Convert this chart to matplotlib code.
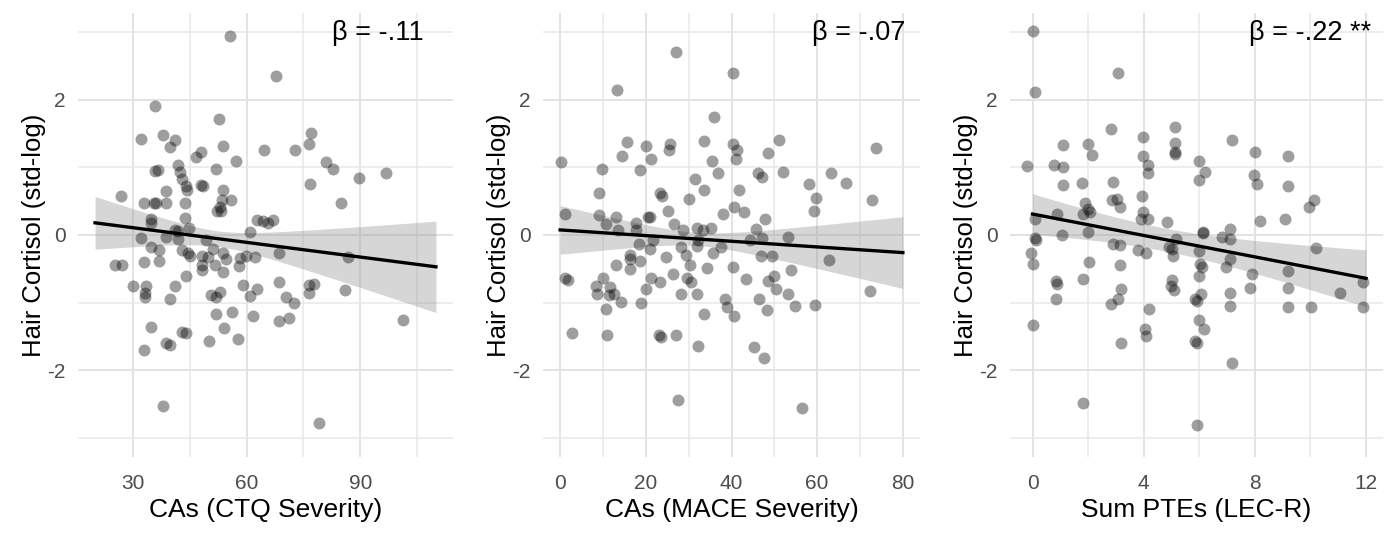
import numpy as np
import matplotlib
matplotlib.use('Agg')
import matplotlib.pyplot as plt

plt.rcParams['font.family'] = ['Liberation Sans', 'DejaVu Sans']
plt.rcParams['axes.unicode_minus'] = False

# hair cortisol vs. CTQ severity
ctq_x = [55.5, 67.8, 35.7, 52.7, 32.2, 37.9, 41.0, 39.9, 53.7, 64.7, 72.7, 77.1, 76.6, 48.0, 46.7,
         57.1, 81.0, 82.8, 89.8, 96.8, 41.9, 42.4, 35.7, 36.6, 52.0, 43.0, 44.1, 44.2, 48.0, 48.5,
         38.8, 53.7, 76.7, 26.9, 32.9, 35.5, 36.2, 38.8, 43.8, 53.6, 55.9, 84.8, 52.9, 52.3, 53.2,
         34.8, 34.8, 43.8, 44.9, 41.0, 42.0, 62.8, 64.3, 65.6, 66.9, 60.8, 32.2, 38.8, 41.8, 49.3,
         34.8, 37.0, 42.9, 44.6, 45.1, 51.2, 53.8, 54.7, 48.2, 49.9, 59.9, 62.1, 58.3, 68.6, 86.7,
         25.2, 27.2, 32.9, 37.0, 48.2, 51.7, 58.0, 48.2, 53.8, 44.1, 30.0, 33.5, 33.3, 33.1, 41.0,
         39.9, 52.9, 50.7, 51.8, 59.0, 62.7, 60.9, 68.6, 76.4, 77.7, 76.6, 86.1, 70.5, 72.5, 52.0,
         56.1, 61.8, 68.6, 71.1, 101.2, 34.8, 54.0, 43.0, 44.1, 50.0, 57.7, 38.8, 39.7, 32.9, 37.9,
         79.0]
ctq_y = [2.94, 2.35, 1.91, 1.71, 1.42, 1.48, 1.41, 1.30, 1.32, 1.25, 1.25, 1.50, 1.35, 1.22, 1.15,
         1.09, 1.08, 0.97, 0.84, 0.91, 1.03, 0.93, 0.94, 0.96, 0.97, 0.83, 0.73, 0.67, 0.74, 0.73,
         0.65, 0.66, 0.75, 0.57, 0.47, 0.48, 0.47, 0.47, 0.47, 0.52, 0.52, 0.47, 0.41, 0.35, 0.35,
         0.24, 0.18, 0.25, 0.10, 0.07, 0.06, 0.22, 0.20, 0.17, 0.22, 0.04, -0.05, -0.03, -0.06, -0.07,
         -0.17, -0.22, -0.22, -0.26, -0.31, -0.21, -0.27, -0.36, -0.31, -0.32, -0.31, -0.32, -0.34, -0.27, -0.32,
         -0.44, -0.44, -0.40, -0.38, -0.44, -0.45, -0.46, -0.52, -0.55, -0.61, -0.76, -0.76, -0.86, -0.91, -0.75,
         -0.94, -0.84, -0.88, -0.91, -0.74, -0.80, -0.90, -0.69, -0.74, -0.72, -0.86, -0.81, -0.92, -1.00, -1.16,
         -1.14, -1.20, -1.27, -1.23, -1.25, -1.36, -1.37, -1.43, -1.45, -1.57, -1.53, -1.59, -1.62, -1.70, -2.52,
         -2.78]

# hair cortisol vs. MACE severity
mace_x = [27.0, 40.4, 13.3, 35.9, 51.2, 73.8, 15.6, 20.0, 25.6, 25.3, 33.6, 40.3, 41.2, 14.5, 21.1,
          41.0, 48.6, 0.2, 9.8, 18.6, 35.4, 36.9, 46.3, 47.1, 52.1, 63.3, 66.8, 58.2, 31.5, 33.6,
          41.8, 9.1, 23.3, 23.7, 30.1, 59.8, 72.8, 25.2, 38.1, 40.6, 42.9, 59.2, 1.2, 9.1, 13.1,
          20.5, 20.9, 10.6, 17.6, 26.6, 47.9, 13.5, 17.6, 28.7, 31.9, 33.3, 35.1, 45.7, 18.4, 21.7,
          20.9, 28.3, 31.9, 32.2, 37.5, 44.3, 47.1, 53.3, 16.4, 16.2, 18.6, 24.6, 29.3, 35.6, 46.9,
          49.4, 62.7, 13.1, 16.4, 30.4, 34.2, 40.3, 53.9, 1.2, 1.8, 10.0, 21.1, 23.3, 26.4, 29.5,
          30.5, 43.3, 48.6, 49.9, 8.4, 11.7, 8.6, 11.4, 12.6, 14.3, 20.0, 18.8, 28.1, 32.0, 50.4,
          53.1, 72.4, 38.5, 38.9, 40.7, 46.5, 48.3, 54.9, 59.6, 10.8, 33.6, 2.8, 11.0, 23.1, 23.5,
          27.0, 32.1, 45.3, 47.6, 27.6, 56.4]
mace_y = [2.71, 2.40, 2.14, 1.75, 1.40, 1.28, 1.37, 1.32, 1.35, 1.26, 1.39, 1.34, 1.26, 1.16, 1.13,
          1.12, 1.21, 1.08, 0.98, 0.96, 1.09, 0.91, 0.92, 0.85, 0.93, 0.92, 0.77, 0.76, 0.83, 0.67,
          0.66, 0.62, 0.62, 0.57, 0.53, 0.54, 0.51, 0.36, 0.31, 0.42, 0.34, 0.35, 0.31, 0.29, 0.26,
          0.26, 0.27, 0.16, 0.17, 0.16, 0.23, 0.07, 0.07, 0.07, 0.11, 0.07, 0.10, 0.09, -0.13, -0.07,
          -0.21, -0.18, -0.16, -0.08, -0.17, -0.08, -0.04, -0.03, -0.30, -0.36, -0.38, -0.32, -0.29, -0.26, -0.31,
          -0.31, -0.37, -0.44, -0.50, -0.44, -0.49, -0.47, -0.52, -0.64, -0.66, -0.63, -0.63, -0.70, -0.57, -0.63,
          -0.69, -0.65, -0.68, -0.61, -0.76, -0.77, -0.87, -0.89, -0.87, -0.99, -0.80, -1.00, -0.87, -0.87, -0.80,
          -0.87, -0.83, -0.95, -1.06, -1.20, -0.95, -1.11, -1.05, -1.03, -1.10, -1.16, -1.45, -1.48, -1.48, -1.51,
          -1.48, -1.64, -1.65, -1.81, -2.44, -2.56]

# hair cortisol vs. number of potentially traumatic events (jittered counts)
lec_x = [0.0, 0.1, 3.09, 2.81, 5.14, 3.96, 7.19, 5.12, 1.08, 2.01, 2.13, 3.96, 5.14, 5.14, 7.99,
         9.21, -0.2, 0.79, 1.11, 4.14, 4.14, 5.98, 6.2, 5.99, 7.97, 8.09, 9.21, 1.08, 1.79, 2.91,
         3.95, 2.87, 3.03, 3.15, 1.89, 2.01, 2.07, 1.8, 3.96, 3.92, 4.16, 10.12, 9.96, 8.19, 9.09,
         0.87, 0.1, 4.84, 6.14, 6.14, 7.1, 6.8, 7.12, 1.05, 1.99, 0.1, 0.13, 2.91, 3.15, 3.8,
         4.08, 4.92, 5.03, 5.18, 5.06, 5.99, 7.1, 10.2, -0.05, 0.03, 2.03, 3.15, 6.02, 6.08, 6.95,
         7.9, 9.19, 5.99, 1.8, 0.84, 0.87, 5.03, 5.0, 5.09, 7.83, 9.19, 11.88, 11.08, 3.17, 3.09,
         2.81, 0.84, 6.05, 5.86, 5.9, 7.1, 7.1, 9.21, 10.02, 11.88, 4.19, 0.03, 5.99, 6.16, 4.04,
         4.1, 3.18, 5.84, 5.92, 7.18, 1.8, 5.93]
lec_y = [3.02, 2.12, 2.39, 1.57, 1.60, 1.45, 1.40, 1.36, 1.33, 1.35, 1.18, 1.17, 1.22, 1.19, 1.22,
         1.17, 1.02, 1.04, 1.00, 1.03, 0.92, 1.09, 0.93, 0.81, 0.88, 0.76, 0.73, 0.74, 0.77, 0.78,
         0.57, 0.51, 0.53, 0.41, 0.47, 0.39, 0.34, 0.31, 0.34, 0.24, 0.24, 0.52, 0.41, 0.20, 0.24,
         0.31, 0.24, 0.19, 0.05, 0.03, 0.09, -0.03, -0.06, 0.00, 0.04, -0.04, -0.07, -0.13, -0.15, -0.22,
         -0.27, -0.18, -0.21, -0.06, -0.31, -0.23, -0.36, -0.19, -0.27, -0.43, -0.40, -0.44, -0.43, -0.48, -0.48,
         -0.58, -0.53, -0.60, -0.65, -0.68, -0.72, -0.67, -0.75, -0.81, -0.79, -0.78, -0.70, -0.85, -0.80, -0.95,
         -1.02, -0.94, -0.87, -0.94, -0.97, -0.86, -1.05, -1.07, -1.07, -1.07, -1.10, -1.33, -1.25, -1.39, -1.39,
         -1.49, -1.59, -1.56, -1.60, -1.89, -2.48, -2.81]

# regression lines as drawn in the figure: x span, fitted y at both ends,
# half-width of the 95% band at both ends
ctq_span, ctq_fit, ctq_ci = [20, 110], [0.18, -0.47], [0.39, 0.675]
mace_span, mace_fit, mace_ci = [0, 80], [0.075, -0.26], [0.36, 0.53]
lec_span, lec_fit, lec_ci = [0, 12], [0.31, -0.64], [0.30, 0.42]

panels = [
    dict(x=ctq_x, y=ctq_y, span=ctq_span, fit=ctq_fit, ci=ctq_ci, xlim=(15.5, 114.5),
         major=[30, 60, 90], minor=[45, 75, 105],
         xlabel='CAs (CTQ Severity)', beta='\u03b2 = -.11', tx=106.7, left=78, width=375),
    dict(x=mace_x, y=mace_y, span=mace_span, fit=mace_fit, ci=mace_ci, xlim=(-4, 84),
         major=[0, 20, 40, 60, 80], minor=[10, 30, 50, 70],
         xlabel='CAs (MACE Severity)', beta='\u03b2 = -.07', tx=80.6, left=543, width=377),
    dict(x=lec_x, y=lec_y, span=lec_span, fit=lec_fit, ci=lec_ci, xlim=(-0.81, 12.61),
         major=[0, 4, 8, 12], minor=[2, 6, 10],
         xlabel='Sum PTEs (LEC-R)', beta='\u03b2 = -.22 **', tx=12.2, left=1010, width=373),
]

W, H = 1389, 547
fig = plt.figure(figsize=(W / 100, H / 100), dpi=100)

for p in panels:
    ax = fig.add_axes([p['left'] / W, 1 - 457 / H, p['width'] / W, 444 / H])
    x = np.array(p['x'])
    y = np.array(p['y'])

    #line through the two end values, band is the usual lm hyperbola around mean(x)
    x0, x1 = p['span']
    xs = np.linspace(x0, x1, 200)
    fit = np.interp(xs, [x0, x1], p['fit'])
    xc = x.mean()
    h0, h1 = p['ci']
    k2 = (h1 ** 2 - h0 ** 2) / ((x1 - xc) ** 2 - (x0 - xc) ** 2)
    hmin2 = h0 ** 2 - k2 * (x0 - xc) ** 2
    half = np.sqrt(hmin2 + k2 * (xs - xc) ** 2)

    ax.fill_between(xs, fit - half, fit + half, color='#999999', alpha=0.4, lw=0, zorder=2)
    ax.scatter(x, y, s=74, color='black', alpha=0.38, lw=0, zorder=3)
    ax.plot(xs, fit, color='black', lw=2.4, zorder=4)

    ax.set_xlim(p['xlim'])
    ax.set_ylim(-3.28, 3.28)
    ax.set_xticks(p['major'])
    ax.set_xticks(p['minor'], minor=True)
    ax.set_yticks([-2, 0, 2])
    ax.set_yticks([-3, -1, 1, 3], minor=True)
    ax.grid(which='major', color='#e3e3e3', lw=1.4, zorder=0)
    ax.grid(which='minor', color='#e8e8e8', lw=1.1, zorder=0)
    ax.set_axisbelow(True)
    for sp in ax.spines.values():
        sp.set_visible(False)
    ax.tick_params(which='both', length=0, labelsize=15, labelcolor='#4d4d4d')
    ax.tick_params(axis='x', pad=12)
    ax.tick_params(axis='y', pad=9)
    ax.set_xlabel(p['xlabel'], fontsize=19, labelpad=4)
    ax.set_ylabel('Hair Cortisol (std-log)', fontsize=18.5, labelpad=1)
    ax.text(p['tx'], 2.98, p['beta'], fontsize=19.5, ha='right', va='center')

fig.savefig('out.png', dpi=100)
